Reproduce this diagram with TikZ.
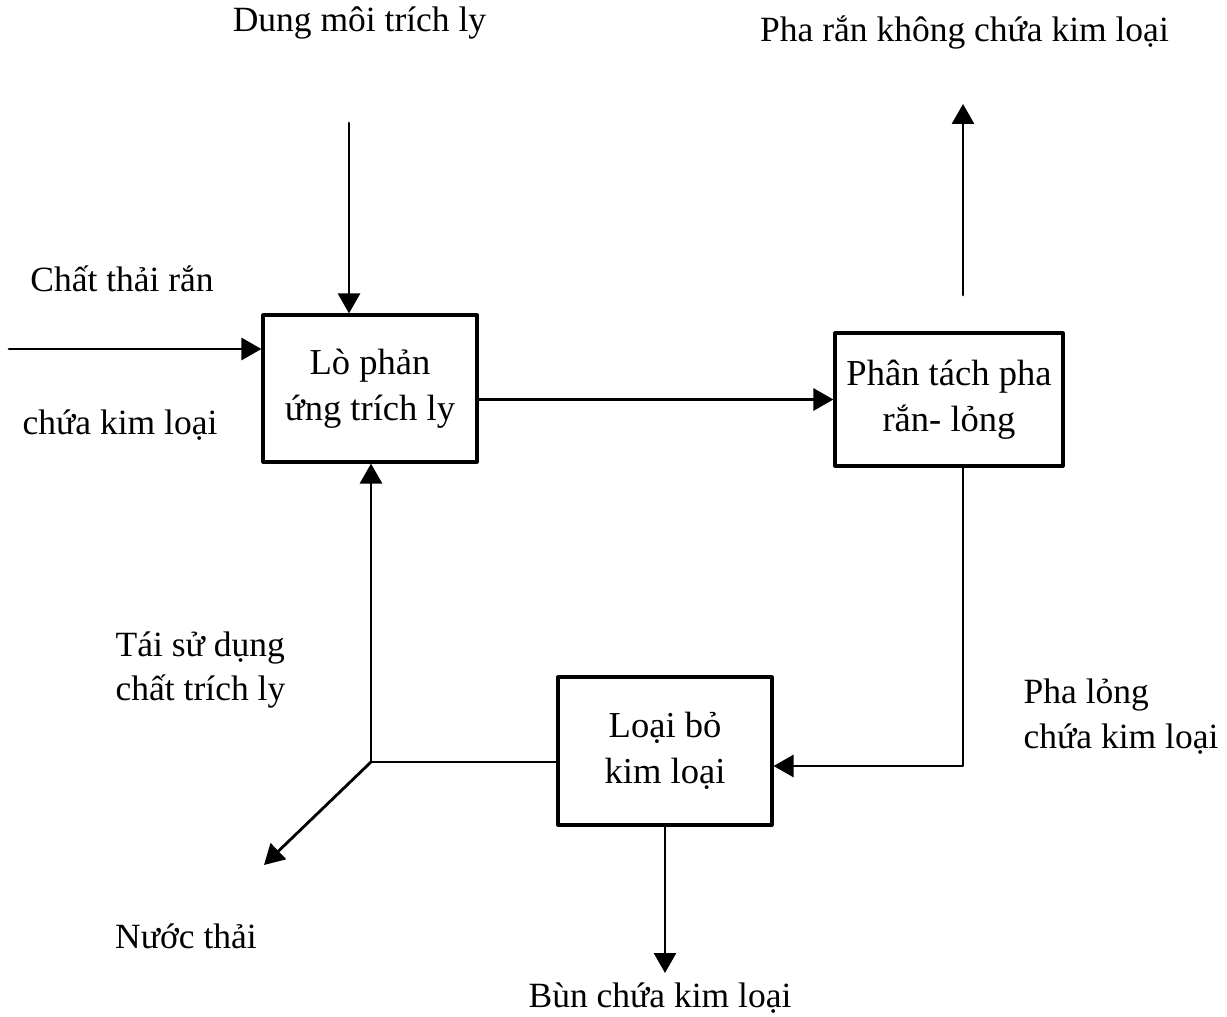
\documentclass[tikz,border=0pt]{standalone}
\usepackage{fontspec}
\setmainfont{Liberation Serif}
\usetikzlibrary{arrows.meta,positioning,calc}

\begin{document}
\begin{tikzpicture}[>={Triangle[length=2mm,width=2.2mm]}, line cap=round, line join=round,
  font=\fontsize{10.1}{12.8}\selectfont,
  box/.style={draw, line width=0.9pt, align=center, inner sep=0pt, font=\fontsize{10.4}{13}\selectfont},
  lbl/.style={inner sep=0pt},
  flow/.style={->, line width=0.8pt}]
\useasboundingbox (0,0) rectangle (12.27,10.16);

% process boxes
\node[box, minimum width=2.14cm, minimum height=1.47cm] (react) at (3.70,6.275) {Lò phản\\ứng trích ly};
\node[box, minimum width=2.28cm, minimum height=1.33cm] (separ) at (9.49,6.165) {Phân tách pha\\rắn- lỏng};
\node[box, minimum width=2.14cm, minimum height=1.48cm] (remove) at (6.65,2.65) {Loại bỏ\\kim loại};

% stream labels
\node[lbl, anchor=base] (solvent) at (3.595,9.84) {Dung môi trích ly};
\node[lbl, anchor=base] (solidfree) at (9.645,9.74) {Pha rắn không chứa kim loại};
\node[lbl, anchor=base] (waste1) at (1.22,7.24) {Chất thải rắn};
\node[lbl, anchor=base] (waste2) at (1.20,5.81) {chứa kim loại};
\node[lbl, anchor=west, align=left] (reuse) at (1.15,3.46) {Tái sử dụng\\chất trích ly};
\node[lbl, anchor=west, align=left] (liquid) at (10.23,2.99) {Pha lỏng\\chứa kim loại};
\node[lbl, anchor=base] (wastewater) at (1.86,0.68) {Nước thải};
\node[lbl, anchor=base] (sludge) at (6.60,0.09) {Bùn chứa kim loại};

% free ends and bends
\coordinate (feed) at (0.09,6.67);
\coordinate (solvtop) at (3.49,8.93);
\coordinate (solidfoot) at (9.63,7.21);
\coordinate (solidtip) at (9.63,9.12);
\coordinate (liqturn) at (9.63,2.50);
\coordinate (junc) at (3.71,2.54);
\coordinate (wastetip) at (2.64,1.51);
\coordinate (sludgetip) at (6.65,0.43);

% flows
\draw[flow] (feed) -- (feed -| react.west);
\draw[flow] (solvtop) -- (solvtop |- react.north);
\draw[flow] (react.east |- separ.west) -- (separ.west);
\draw[flow] (solidfoot) -- (solidtip);
\draw[flow] (liqturn |- separ.south) -- (liqturn) -- (liqturn -| remove.east);
\draw[line width=0.8pt] (junc -| remove.west) -- (junc);
\draw[flow] (junc) -- (junc |- react.south);
\draw[flow] (junc) -- (wastetip);
\draw[flow] (remove.south) -- (sludgetip);

\end{tikzpicture}
\end{document}
